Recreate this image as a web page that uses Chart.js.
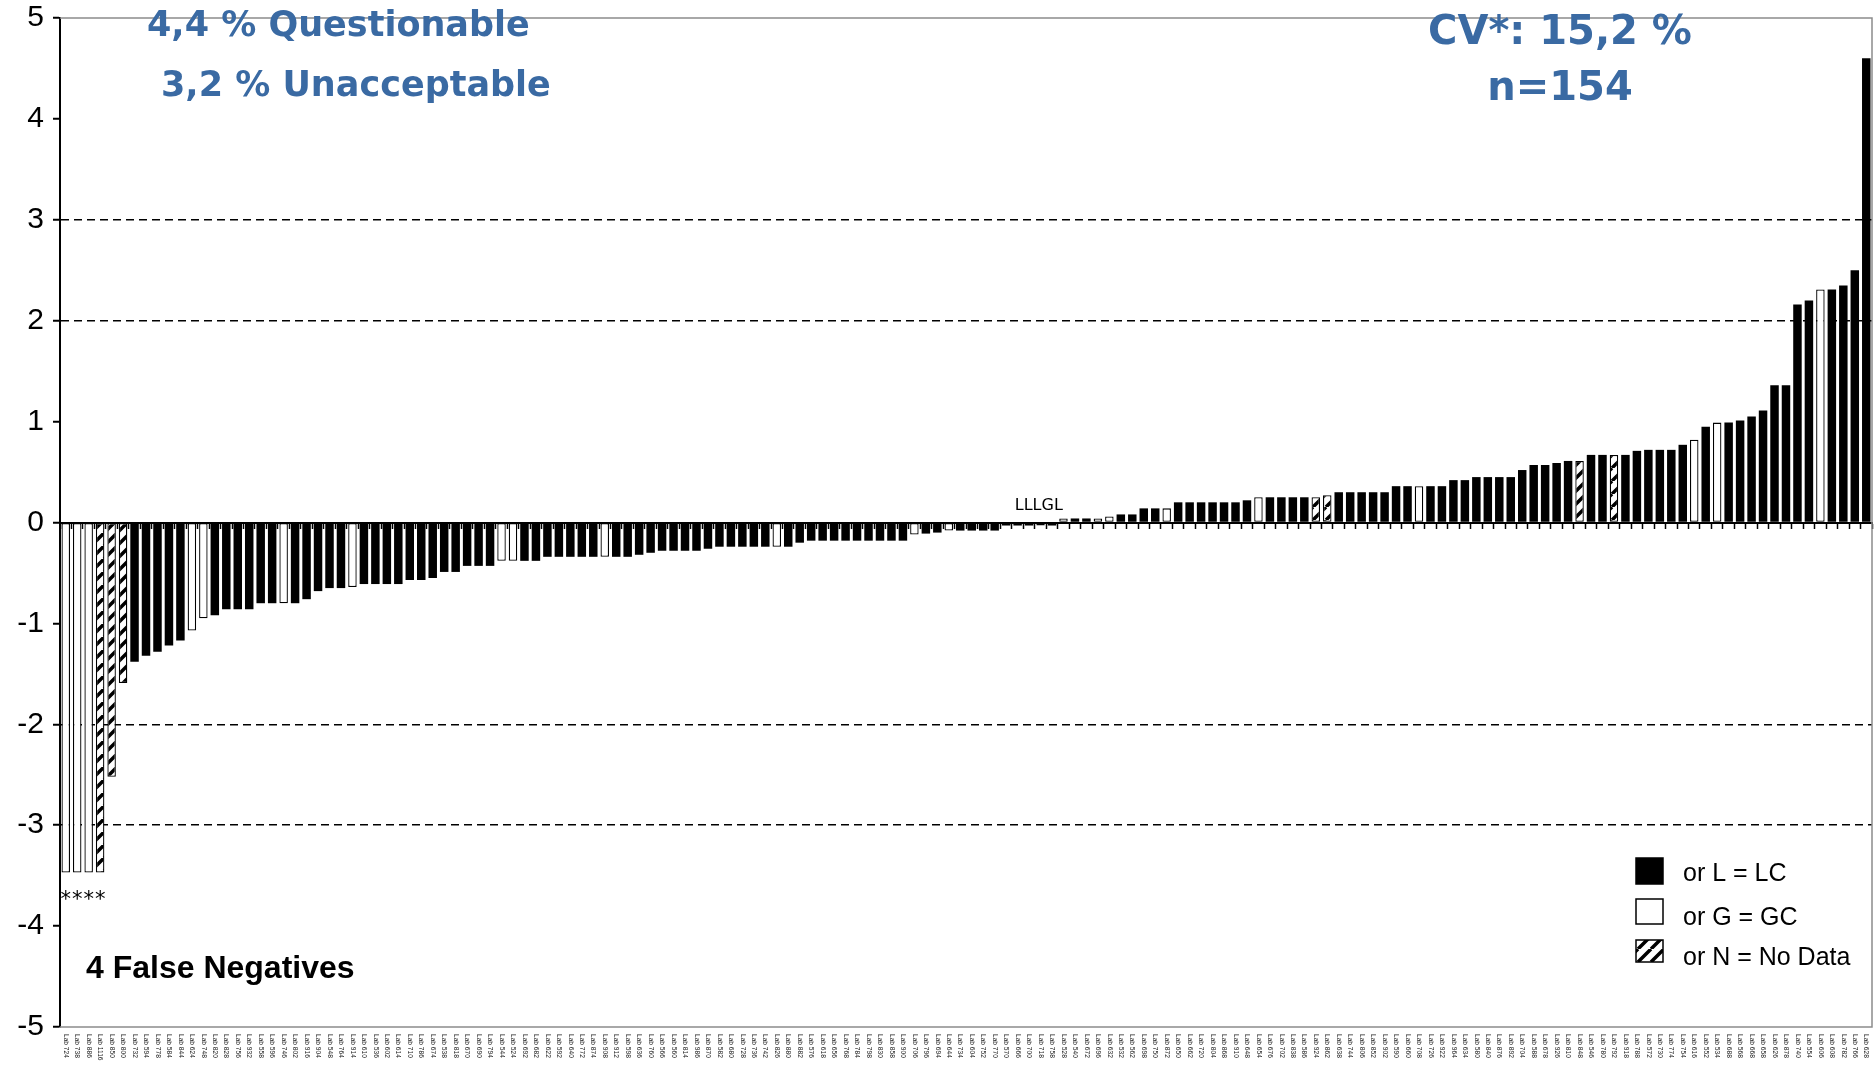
<!DOCTYPE html>
<html>
<head>
<meta charset="utf-8">
<title>Lab z-scores</title>
<script src="https://cdn.jsdelivr.net/npm/chart.js@4.4.0/dist/chart.umd.min.js"></script>
<style>
  html, body { margin: 0; padding: 0; background: #fff; overflow: hidden; }
  #wrap { position: relative; width: 1874px; height: 1067px; }
</style>
</head>
<body>
<div id="wrap"><canvas id="chart"></canvas></div>
<script>
// Participating laboratories, sorted by z-score
const labs = [
  724, 738, 886, 1116, 850, 800, 732, 594, 778, 584, 844, 624, 748, 820, 828, 756, 932, 558, 596, 746, 802, 916, 904, 548, 764, 914,
  610, 536, 602, 614, 710, 786, 674, 538, 818, 670, 690, 794, 544, 524, 692, 682, 622, 592, 640, 772, 874, 908, 912, 598, 636, 760, 566, 560, 814, 986, 870, 582, 680,
  728, 736, 742, 826, 880, 882, 576, 618, 656, 768, 784, 798, 830, 858, 900, 706, 796, 694, 644, 734, 604, 752, 770, 570, 666, 700, 718, 758, 528, 540, 672, 696, 632,
  532, 562, 698, 750, 872, 650, 662, 720, 804, 868, 910, 648, 654, 676, 702, 838, 586, 924, 862, 638, 744, 806, 852, 902, 590, 660, 708, 726, 922, 964, 634, 580, 840,
  876, 892, 704, 588, 678, 926, 810, 848, 546, 780, 792, 918, 788, 572, 730, 774, 754, 616, 552, 534, 688, 568, 668, 658, 626, 878, 740, 554, 606, 608, 782, 766, 628
].map(n => 'Lab ' + n);

// z-score of each laboratory
const zScores = [
  -3.47, -3.47, -3.47, -3.47, -2.52, -1.59, -1.38, -1.32, -1.28, -1.22,
  -1.17, -1.07, -0.95, -0.92, -0.86, -0.86, -0.86, -0.80, -0.80, -0.80,
  -0.80, -0.76, -0.68, -0.65, -0.65, -0.64, -0.61, -0.61, -0.61, -0.61,
  -0.57, -0.57, -0.55, -0.49, -0.49, -0.43, -0.43, -0.43, -0.38, -0.38,
  -0.38, -0.38, -0.34, -0.34, -0.34, -0.34, -0.34, -0.34, -0.34, -0.34,
  -0.32, -0.30, -0.28, -0.28, -0.28, -0.28, -0.26, -0.24, -0.24, -0.24,
  -0.24, -0.24, -0.24, -0.24, -0.20, -0.18, -0.18, -0.18, -0.18, -0.18,
  -0.18, -0.18, -0.18, -0.18, -0.12, -0.11, -0.10, -0.08, -0.08, -0.08,
  -0.08, -0.08, -0.03, -0.03, -0.03, -0.03, -0.03, 0.04, 0.04, 0.04,
  0.04, 0.06, 0.08, 0.08, 0.14, 0.14, 0.14, 0.20, 0.20, 0.20,
  0.20, 0.20, 0.20, 0.22, 0.25, 0.25, 0.25, 0.25, 0.25, 0.25,
  0.27, 0.30, 0.30, 0.30, 0.30, 0.30, 0.36, 0.36, 0.36, 0.36,
  0.36, 0.42, 0.42, 0.45, 0.45, 0.45, 0.45, 0.52, 0.57, 0.57,
  0.59, 0.61, 0.61, 0.67, 0.67, 0.67, 0.67, 0.71, 0.72, 0.72,
  0.72, 0.77, 0.82, 0.95, 0.99, 0.99, 1.01, 1.05, 1.11, 1.36,
  1.36, 2.16, 2.20, 2.31, 2.31, 2.35, 2.50, 4.60
];

// Method used by each laboratory: L = LC, G = GC, N = no data
const methods = [
  'G','G','G','N','N','N','L','L','L','L',
  'L','G','G','L','L','L','L','L','L','G',
  'L','L','L','L','L','G','L','L','L','L',
  'L','L','L','L','L','L','L','L','G','G',
  'L','L','L','L','L','L','L','G','L','L',
  'L','L','L','L','L','L','L','L','L','L',
  'L','L','G','L','L','L','L','L','L','L',
  'L','L','L','L','G','L','L','G','L','L',
  'L','L','L','L','L','G','L','G','L','L',
  'G','G','L','L','L','L','G','L','L','L',
  'L','L','L','L','G','L','L','L','L','N',
  'N','L','L','L','L','L','L','L','G','L',
  'L','L','L','L','L','L','L','L','L','L',
  'L','L','N','L','L','N','L','L','L','L',
  'L','L','G','L','G','L','L','L','L','L',
  'L','L','L','G','L','L','L','L'
];

// Laboratories reporting a false negative
const falseNegatives = [0, 1, 2, 3];

const methodKeys = ['L', 'G', 'N'];
const legendLabels = ['or L = LC', 'or G = GC', 'or N = No Data'];
const headlineLeft = ['4,4 % Questionable', '3,2 % Unacceptable'];
const headlineRight = ['CV*: 15,2 %', 'n=154'];
const falseNegText = '4 False Negatives';
const nearZeroNote = 'LLLGL';

// Diagonal hatch used for "no data" bars
function makeHatch() {
  const s = 13;
  const c = document.createElement('canvas');
  c.width = s; c.height = s;
  const g = c.getContext('2d');
  g.fillStyle = '#fff';
  g.fillRect(0, 0, s, s);
  g.strokeStyle = '#000';
  g.lineWidth = 3.5;
  g.beginPath();
  for (const o of [-s, 0, s]) {
    g.moveTo(o, s);
    g.lineTo(o + s, 0);
  }
  g.stroke();
  return g.createPattern(c, 'repeat');
}
const hatch = makeHatch();
const fills = { L: '#000000', G: '#ffffff', N: hatch };

const datasets = methodKeys.map((m, k) => ({
  label: legendLabels[k],
  data: zScores.map((v, i) => (methods[i] === m ? v : null)),
  backgroundColor: fills[m],
  borderColor: '#000',
  borderWidth: m === 'L' ? 0 : 1.3,
  borderSkipped: false,
  grouped: false,
  barPercentage: 0.74,
  categoryPercentage: 1.0
}));

const ARIAL = '"Liberation Sans", Arial, sans-serif';
const DEJAVU = '"DejaVu Sans", Verdana, sans-serif';

// Plot frame, category labels and text notes
const notesPlugin = {
  id: 'notes',
  afterDraw(chart) {
    const { ctx, chartArea: a, scales } = chart;
    const xs = scales.x, ys = scales.y;

    // grey frame on top, right and bottom
    ctx.save();
    ctx.strokeStyle = '#8c8c8c';
    ctx.lineWidth = 1.5;
    ctx.beginPath();
    ctx.moveTo(a.left, a.top); ctx.lineTo(a.right, a.top);
    ctx.lineTo(a.right, a.bottom); ctx.lineTo(a.left, a.bottom);
    ctx.stroke();
    ctx.restore();

    // laboratory names, rotated to read downwards
    ctx.save();
    ctx.font = '6.6px ' + ARIAL;
    ctx.fillStyle = '#222';
    ctx.textAlign = 'left';
    ctx.textBaseline = 'middle';
    labs.forEach((t, i) => {
      ctx.save();
      ctx.translate(xs.getPixelForValue(i), a.bottom + 7);
      ctx.rotate(Math.PI / 2);
      ctx.fillText(t, 0, 0);
      ctx.restore();
    });
    ctx.restore();

    // asterisks under the false negatives
    ctx.save();
    ctx.font = '21px ' + DEJAVU;
    ctx.fillStyle = '#000';
    ctx.textAlign = 'center';
    ctx.textBaseline = 'alphabetic';
    falseNegatives.forEach(i => {
      ctx.fillText('*', xs.getPixelForValue(i), ys.getPixelForValue(zScores[i]) + 33);
    });
    ctx.restore();

    // method note above the near-zero results
    ctx.save();
    ctx.font = '16px ' + DEJAVU;
    ctx.fillStyle = '#000';
    ctx.textAlign = 'center';
    ctx.textBaseline = 'middle';
    ctx.fillText(nearZeroNote, (xs.getPixelForValue(84) + xs.getPixelForValue(85)) / 2 + 4, ys.getPixelForValue(0) - 17);
    ctx.restore();

    // headline statistics
    ctx.save();
    ctx.fillStyle = '#3a6aa3';
    ctx.textBaseline = 'middle';
    ctx.textAlign = 'left';
    ctx.font = 'bold 35px ' + DEJAVU;
    ctx.fillText(headlineLeft[0], 147, 27);
    ctx.fillText(headlineLeft[1], 161, 87);
    ctx.textAlign = 'center';
    ctx.font = 'bold 40px ' + DEJAVU;
    ctx.fillText(headlineRight[0], 1560, 34);
    ctx.fillText(headlineRight[1], 1560, 90);
    ctx.restore();

    ctx.save();
    ctx.fillStyle = '#000';
    ctx.font = 'bold 32px ' + ARIAL;
    ctx.textAlign = 'left';
    ctx.textBaseline = 'middle';
    ctx.fillText(falseNegText, 86, 969);
    ctx.restore();

    // legend
    const rows = [
      { y: 858, h: 26, ty: 874 },
      { y: 899, h: 25, ty: 918 },
      { y: 940, h: 22, ty: 958 }
    ];
    ctx.save();
    ctx.font = '25px ' + ARIAL;
    ctx.textAlign = 'left';
    ctx.textBaseline = 'middle';
    chart.data.datasets.forEach((ds, k) => {
      const r = rows[k];
      ctx.fillStyle = ds.backgroundColor;
      ctx.fillRect(1636, r.y, 27, r.h);
      ctx.strokeStyle = '#000';
      ctx.lineWidth = 1.5;
      ctx.strokeRect(1636, r.y, 27, r.h);
      ctx.fillStyle = '#000';
      ctx.fillText(ds.label, 1683, r.ty);
    });
    ctx.restore();
  }
};

new Chart(document.getElementById('chart'), {
  type: 'bar',
  data: { labels: labs, datasets },
  options: {
    responsive: true,
    maintainAspectRatio: false,
    animation: false,
    devicePixelRatio: 1,
    layout: { padding: { left: 0, top: 18, right: 2, bottom: 40 } },
    plugins: { legend: { display: false }, tooltip: { enabled: false } },
    scales: {
      x: {
        type: 'category',
        position: { y: 0 },
        offset: true,
        grid: {
          offset: true,
          drawOnChartArea: false,
          drawTicks: true,
          tickLength: 5,
          tickWidth: 1.5,
          tickColor: '#000',
          color: '#000'
        },
        ticks: { display: false },
        border: { display: true, color: '#000', width: 2 }
      },
      y: {
        min: -5,
        max: 5,
        afterFit(scale) {
          scale.width = 60;
          scale.paddingTop = 0;
          scale.paddingBottom = 0;
        },
        ticks: {
          stepSize: 1,
          color: '#000',
          padding: 9,
          font: { family: ARIAL, size: 30 }
        },
        grid: {
          color: c => ([2, 3, -2, -3].includes(c.tick && c.tick.value) ? '#000' : 'rgba(0,0,0,0)'),
          lineWidth: 1.5,
          tickColor: '#000',
          tickLength: 7,
          tickWidth: 2
        },
        border: { display: true, color: '#000', width: 2, dash: [8, 5] }
      }
    }
  },
  plugins: [notesPlugin]
});
</script>
</body>
</html>
